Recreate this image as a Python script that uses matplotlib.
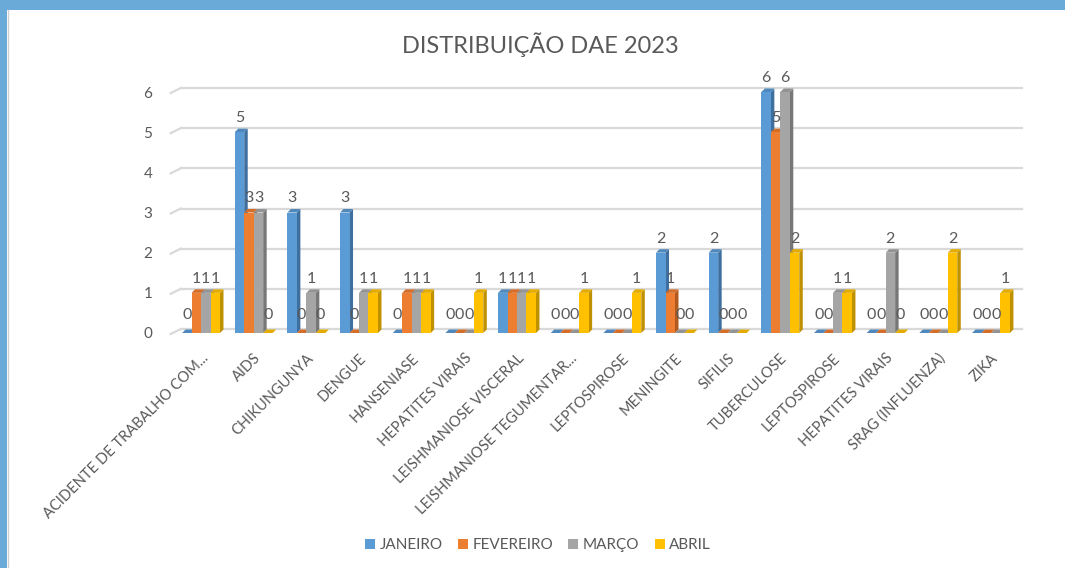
import matplotlib
matplotlib.use("Agg")
import matplotlib.pyplot as plt
from matplotlib.patches import Polygon, Rectangle
from matplotlib.lines import Line2D

plt.rcParams['font.family'] = ['Lato', 'DejaVu Sans']

categories = ["ACIDENTE DE TRABALHO COM...", "AIDS", "CHIKUNGUNYA", "DENGUE", "HANSENIASE",
              "HEPATITES VIRAIS", "LEISHMANIOSE VISCERAL", "LEISHMANIOSE TEGUMENTAR...",
              "LEPTOSPIROSE", "MENINGITE", "SIFILIS", "TUBERCULOSE", "LEPTOSPIROSE",
              "HEPATITES VIRAIS", "SRAG (INFLUENZA)", "ZIKA"]
series_names = ["JANEIRO", "FEVEREIRO", "MARÇO", "ABRIL"]
janeiro   = [0, 5, 3, 3, 0, 0, 1, 0, 0, 2, 2, 6, 0, 0, 0, 0]
fevereiro = [1, 3, 0, 0, 1, 0, 1, 0, 0, 1, 0, 5, 0, 0, 0, 0]
marco     = [1, 3, 1, 1, 1, 0, 1, 0, 0, 0, 0, 6, 1, 2, 0, 0]
abril     = [1, 0, 0, 1, 1, 1, 1, 1, 1, 0, 0, 2, 1, 0, 2, 1]
yticks = [0, 1, 2, 3, 4, 5, 6]

series = [janeiro, fevereiro, marco, abril]
front_colors = ["#5B9BD5", "#ED7D31", "#A5A5A5", "#FFC000"]
side_colors = ["#3E6F9E", "#B05A1F", "#777777", "#BF9000"]
top_colors = ["#4F88BD", "#D36D28", "#939393", "#E3AB00"]
text_color = "#595959"

W, H = 1065, 568
fig = plt.figure(figsize=(W / 100, H / 100), dpi=100)
fig.patch.set_facecolor("white")

# frame
fig.add_artist(Rectangle((0, 1 - 10 / H), 1, 10 / H, transform=fig.transFigure,
                         facecolor="#6AAAD9", edgecolor="none", zorder=0))
fig.add_artist(Rectangle((0, 0), 7 / W, 1, transform=fig.transFigure,
                         facecolor="#6AAAD9", edgecolor="none", zorder=0))
fig.add_artist(Line2D([7.5 / W, 7.5 / W], [0, 1 - 10 / H], transform=fig.transFigure,
                      color="#D0D0D0", lw=1))

ax_left, ax_right = 174.7, 1017.3
y0_px, y6_px = 333, 92
ax = fig.add_axes([ax_left / W, (H - y0_px) / H, (ax_right - ax_left) / W, (y0_px - y6_px) / H])
n = len(categories)
ax.set_xlim(-0.5, n - 0.5)
ax.set_ylim(0, 6)
px_x = (ax_right - ax_left) / n
px_y = (y0_px - y6_px) / 6.0

dx = 3.5 / px_x
dy = 3.5 / px_y

# gridlines (back wall, 3D style)
for v in yticks:
    gy = v + 4 / px_y
    ax.add_line(Line2D([-0.5 + 6 / px_x, n - 0.5 + 5 / px_x], [gy, gy], color="#D9D9D9",
                       lw=1.6, clip_on=False, zorder=0))
    ax.add_line(Line2D([-0.5 - 4 / px_x, -0.5 + 6 / px_x], [v - 1 / px_y, gy], color="#D9D9D9",
                       lw=1.6, clip_on=False, zorder=0))

bw = 0.18
start = -0.36
z = 2
for j in range(n):
    for i, s in enumerate(series):
        h = s[j]
        x0 = j + start + i * bw
        x1 = x0 + bw
        side = Polygon([(x1, 0), (x1 + dx, dy), (x1 + dx, h + dy), (x1, h)], closed=True,
                       facecolor=side_colors[i], edgecolor="none", zorder=z, clip_on=False)
        top = Polygon([(x0, h), (x0 + dx, h + dy), (x1 + dx, h + dy), (x1, h)], closed=True,
                      facecolor=top_colors[i], edgecolor="none", zorder=z, clip_on=False)
        ax.add_patch(side)
        ax.add_patch(top)
        if h > 0:
            ax.bar(x0, h, width=bw, align="edge", color=front_colors[i], edgecolor="none",
                   zorder=z + 0.5, clip_on=False)
        z += 1

# data labels
for j in range(n):
    for i, s in enumerate(series):
        h = s[j]
        xc = j + start + i * bw + bw / 2
        off = 10 if h > 0 else 14
        ax.annotate(str(h), xy=(xc, h), xytext=(0, off * 0.72), textcoords="offset points",
                    ha="center", va="baseline", fontsize=11.5, color=text_color, zorder=200,
                    annotation_clip=False)

for sp in ax.spines.values():
    sp.set_visible(False)
ax.set_yticks(yticks)
ax.set_yticklabels([str(v) for v in yticks], fontsize=11, color=text_color)
ax.tick_params(axis="y", length=0, pad=16)
ax.set_xticks(range(n))
ax.set_xticklabels(categories, rotation=45, ha="right", rotation_mode="anchor",
                   fontsize=10.5, color=text_color)
ax.tick_params(axis="x", length=0, pad=13)
ax.set_facecolor("none")

fig.text(540 / W, 1 - 45 / H, "DISTRIBUIÇÃO DAE 2023", ha="center", va="center",
         fontsize=17, color=text_color, fontweight="normal")

handles = [Rectangle((0, 0), 1, 1, facecolor=c, edgecolor="none") for c in front_colors]
fig.legend(handles, series_names, loc="center", bbox_to_anchor=(538 / W, 1 - 545 / H),
           ncol=4, frameon=False, fontsize=11, handlelength=0.65, handleheight=0.65,
           handletextpad=0.3, columnspacing=1.0, labelcolor=text_color)

fig.savefig("out.png", dpi=100)
